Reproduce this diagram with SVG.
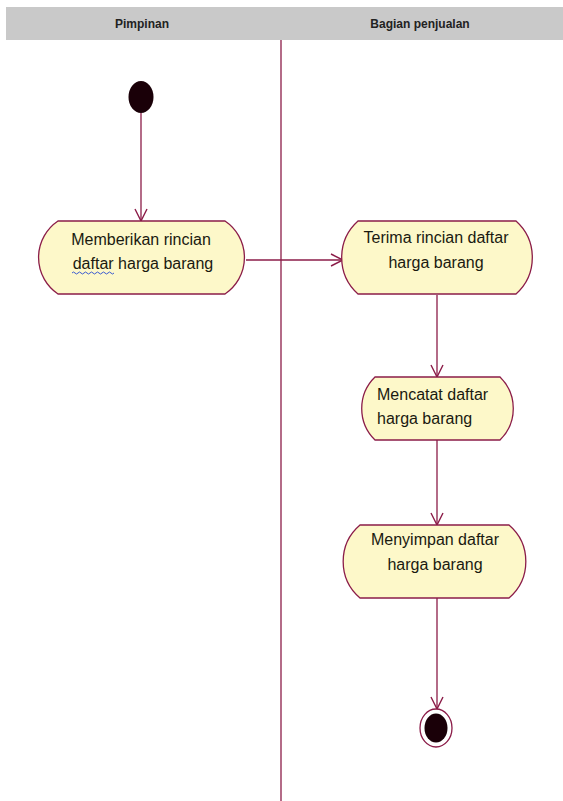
<svg xmlns="http://www.w3.org/2000/svg" width="563" height="801" viewBox="0 0 563 801">
<style>
.hdr{font-family:"Liberation Sans",Arial,sans-serif;font-size:12px;font-weight:bold;fill:#222;text-anchor:middle}
.lbl{font-family:"Liberation Sans",Arial,sans-serif;font-size:16px;fill:#1a1a10;text-anchor:middle}
.lft{text-anchor:start}
.act{fill:#fdf8c9;stroke:#8b1c48;stroke-width:1.3}
.edge{fill:none;stroke:#8b1c48;stroke-width:1.3}
</style>
<defs>
<marker id="v" viewBox="0 0 14 14" refX="13" refY="7" markerWidth="14" markerHeight="14" markerUnits="userSpaceOnUse" orient="auto">
<path d="M1,1 L13,7 L1,13" fill="none" stroke="#8b1c48" stroke-width="1.4"/>
</marker>
</defs>
<rect width="563" height="801" fill="#ffffff"/>
<g id="header">
<rect x="6" y="7" width="557" height="33" fill="#c9c9c9"/>
<text class="hdr" x="142" y="28">Pimpinan</text>
<text class="hdr" x="420" y="28">Bagian penjualan</text>
</g>
<g id="swimlane-divider">
<line x1="281" y1="40" x2="281" y2="801" stroke="#8b1c48" stroke-width="1.3"/>
</g>
<g id="connectors">
<line class="edge" x1="141" y1="113" x2="141" y2="221" marker-end="url(#v)"/>
<line class="edge" x1="246" y1="260" x2="343" y2="260" marker-end="url(#v)"/>
<line class="edge" x1="437" y1="295" x2="437" y2="377" marker-end="url(#v)"/>
<line class="edge" x1="437" y1="440" x2="437" y2="525" marker-end="url(#v)"/>
<line class="edge" x1="437" y1="598" x2="437" y2="709" marker-end="url(#v)"/>
</g>
<g id="start">
<ellipse cx="141" cy="97" rx="12.5" ry="16" fill="#1a0008"/>
</g>
<g id="act1">
<path class="act" d="M58,221 H225 A44,44 0 0 1 225,294 H58 A44,44 0 0 1 58,221 Z"/>
<text class="lbl" x="141" y="245">Memberikan rincian</text>
<text class="lbl" x="143" y="269">daftar harga barang</text>
<path d="M72,273 q1.5,-2 3,0 t3,0 t3,0 t3,0 t3,0 t3,0 t3,0 t3,0 t3,0 t3,0 t3,0 t3,0 t3,0 t3,0" fill="none" stroke="#3b5bd0" stroke-width="1"/>
</g>
<g id="act2">
<path class="act" d="M358,221 H516 A49,49 0 0 1 516,294 H358 A49,49 0 0 1 358,221 Z"/>
<text class="lbl" x="436" y="243">Terima rincian daftar</text>
<text class="lbl" x="436" y="268">harga barang</text>
</g>
<g id="act3">
<path class="act" d="M375,377 H500 A44,44 0 0 1 500,440 H375 A44,44 0 0 1 375,377 Z"/>
<text class="lbl lft" x="377" y="400">Mencatat daftar</text>
<text class="lbl lft" x="377" y="424">harga barang</text>
</g>
<g id="act4">
<path class="act" d="M360,525 H509 A48,48 0 0 1 509,598 H360 A48,48 0 0 1 360,525 Z"/>
<text class="lbl" x="435" y="545">Menyimpan daftar</text>
<text class="lbl" x="435" y="570">harga barang</text>
</g>
<g id="end">
<ellipse cx="436" cy="728" rx="16" ry="19" fill="#ffffff" stroke="#8b1c48" stroke-width="1.3"/>
<ellipse cx="436" cy="728" rx="11.5" ry="14.5" fill="#1a0008"/>
</g>
</svg>
